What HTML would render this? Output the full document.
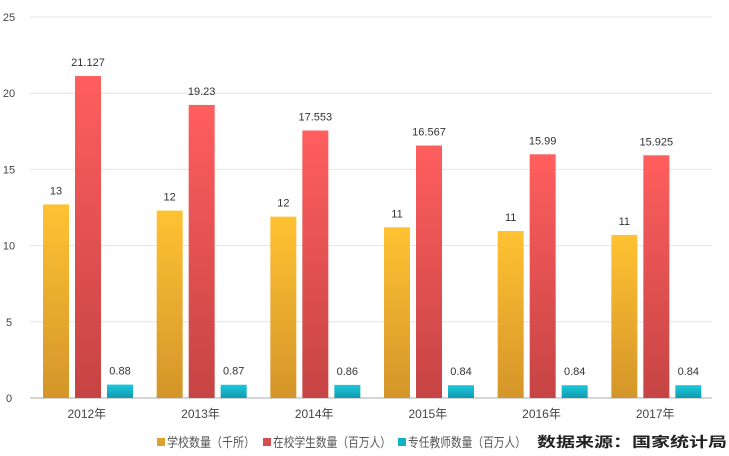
<!DOCTYPE html>
<html><head><meta charset="utf-8"><style>
body{margin:0;background:#fff;}
svg{display:block;font-family:"Liberation Sans","Noto Sans CJK SC",sans-serif;}
</style></head><body>
<svg id="chart" width="729" height="456">
<defs>
<linearGradient id="gY" x1="0" y1="0" x2="0" y2="1"><stop offset="0" stop-color="#FFC232"/><stop offset="1" stop-color="#D4952A"/></linearGradient>
<linearGradient id="gR" x1="0" y1="0" x2="0" y2="1"><stop offset="0" stop-color="#FF5E5E"/><stop offset="1" stop-color="#C64444"/></linearGradient>
<linearGradient id="gT" x1="0" y1="0" x2="0" y2="1"><stop offset="0" stop-color="#1CC8DC"/><stop offset="1" stop-color="#1399AE"/></linearGradient>
</defs>
<g id="grid"></g><g id="bars"></g><g id="labels"></g>
<g font-size="13" fill="#555">
<rect x="157" y="438" width="8" height="8" fill="#E0A02C"/><text x="167" y="447" textLength="88" lengthAdjust="spacingAndGlyphs">学校数量（千所）</text>
<rect x="263" y="438" width="8" height="8" fill="#D84C4C"/><text x="273" y="447" textLength="118" lengthAdjust="spacingAndGlyphs">在校学生数量（百万人）</text>
<rect x="398" y="438" width="8" height="8" fill="#17AFC4"/><text x="408" y="447" textLength="118" lengthAdjust="spacingAndGlyphs">专任教师数量（百万人）</text>
<text x="537" y="447" font-weight="bold" fill="#222" font-size="14" textLength="190" lengthAdjust="spacingAndGlyphs">数据来源：国家统计局</text>
</g>
</svg>
<script>
const categories=["2012年","2013年","2014年","2015年","2016年","2017年"];
const schools=[12.7,12.3,11.9,11.2,10.96,10.7];
const schoolLabels=["13","12","12","11","11","11"];
const students=[21.127,19.23,17.553,16.567,15.99,15.925];
const studentLabels=["21.127","19.23","17.553","16.567","15.99","15.925"];
const teachers=[0.88,0.87,0.86,0.84,0.84,0.84];
const teacherLabels=["0.88","0.87","0.86","0.84","0.84","0.84"];
const yTicks=[0,5,10,15,20,25];
const NS="http://www.w3.org/2000/svg";
const x0=30,x1=712,yb=398,yt=17,ymax=25;
const y=v=>yb-(yb-yt)*v/ymax;
const gw=(x1-x0)/categories.length;
function mk(t,a,p,txt){const e=document.createElementNS(NS,t);for(const k in a)e.setAttribute(k,a[k]);if(txt!==undefined)e.textContent=txt;p.appendChild(e);return e;}
const grid=document.getElementById('grid'),bars=document.getElementById('bars'),labels=document.getElementById('labels');
yTicks.forEach(v=>{
 const l=mk('line',{x1:x0,x2:x1,y1:y(v),y2:y(v),stroke:v===0?'#c8c8c8':'#e4e4e4','stroke-width':v===0?1.5:1},grid);
 
 
 const t=mk('text',{x:9,y:y(v)+4,'font-size':11,fill:'#444','text-anchor':'middle'},grid,String(v));
 
 
});
const series=[[schools,schoolLabels,'url(#gY)',13,'school-bar'],[students,studentLabels,'url(#gR)',45,'student-bar'],[teachers,teacherLabels,'url(#gT)',77,'teacher-bar']];
categories.forEach((c,i)=>{
 const gx=x0+gw*i;
 series.forEach(s=>{
  const v=s[0][i],bx=gx+s[3];
  const r=mk('rect',{x:bx,y:y(v),width:26,height:yb-y(v),fill:s[2]},bars);
  
  
  const t=mk('text',{x:bx+13,y:y(v)-10,'font-size':11,fill:'#333','text-anchor':'middle'},labels,s[1][i]);
  
  
 });
 const t=mk('text',{x:gx+gw/2,y:418,'font-size':12,fill:'#444','text-anchor':'middle'},labels,c);
 
 
});
</script>
</body></html>
